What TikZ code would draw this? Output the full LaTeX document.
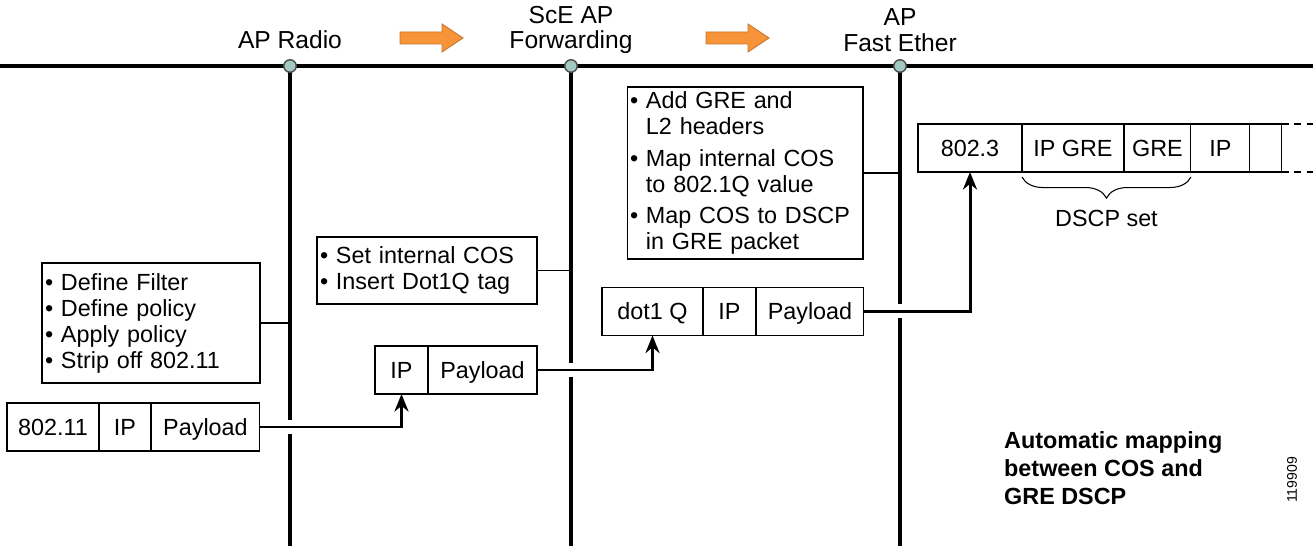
\documentclass[tikz,border=0pt]{standalone}
\usepackage{fontspec}
\setmainfont{Liberation Sans}
\usetikzlibrary{positioning, calc, arrows.meta, decorations.pathreplacing}

\definecolor{flowOrange}{HTML}{F7943A}
\definecolor{tapFill}{HTML}{A3CAC2}

\begin{document}
\begin{tikzpicture}[x=0.02cm, y=-0.02cm,
    field/.style={draw, line width=0.6pt, minimum height=0.96cm, inner sep=0pt,
      outer sep=0pt, text height=9.5pt, text depth=0pt,
      font=\fontsize{13.3}{15}\selectfont},
    note/.style={draw, line width=0.6pt, align=left, inner xsep=0.06cm, inner ysep=0pt,
      font=\fontsize{13.3}{14.8}\selectfont},
    wire/.style={line width=2.3pt},
    tap/.style={circle, draw=black!70, fill=tapFill, line width=0.8pt,
      minimum size=0.25cm, inner sep=0pt},
    flow/.style={line width=1.7pt, -{Stealth[length=10pt, width=8pt]}},
    gap/.style={white, line width=3.2pt},
    title/.style={align=center, font=\fontsize{14}{14.5}\selectfont}]
    \useasboundingbox (0, 0) rectangle (1313, 546);

    % bus and the three stages
    \coordinate (radio) at (290, 66);
    \coordinate (fwd) at (571, 66);
    \coordinate (ether) at (900, 66);
    \draw[wire] (0, 66) -- (1313, 66);
    \foreach \s in {radio, fwd, ether}
        \draw[wire] (\s) -- (\s |- 0, 546);

    \node[title] (radiolbl) at (290, 40) {AP Radio};
    \node[title] (fwdlbl) at (571, 30) {ScE AP\\Forwarding};
    \node[title] (etherlbl) at (900, 30) {AP\\Fast Ether};

    % orange arrows
    \foreach \x in {400, 706}
        \filldraw[fill=flowOrange, draw=flowOrange!80!black, line width=0.5pt]
            (\x, 32) -- ++(42, 0) -- ++(0, -8) -- ++(21, 14) -- ++(-21, 14)
            -- ++(0, -8) -- ++(-42, 0) -- cycle;

    % notes
    \node[note, minimum width=4.36cm, minimum height=2.4cm, text width=4.24cm]
        (filternote) at (151, 323) {\textbullet\ Define Filter\\
        \textbullet\ Define policy\\
        \textbullet\ Apply policy\\
        \textbullet\ Strip off 802.11};
    \node[note, minimum width=4.4cm, minimum height=1.34cm, text width=4.28cm]
        (cosnote) at (427, 270.5) {\textbullet\ Set internal COS\\
        \textbullet\ Insert Dot1Q tag};
    \node[note, minimum width=4.72cm, minimum height=3.44cm, text width=4.6cm]
        (grenote) at (745, 173) {\textbullet\ Add GRE and\\
        \hphantom{\textbullet\ }L2 headers\\[3pt]
        \textbullet\ Map internal COS\\
        \hphantom{\textbullet\ }to 802.1Q value\\[3pt]
        \textbullet\ Map COS to DSCP\\
        \hphantom{\textbullet\ }in GRE packet};

    \draw[line width=0.6pt] (filternote.east) -- (filternote.east -| radio);
    \draw[line width=0.6pt] (cosnote.east) -- (cosnote.east -| fwd);
    \draw[line width=0.6pt] (grenote.east) -- (grenote.east -| ether);

    % packets
    \node[field, minimum width=1.84cm] (p1mac) at (53, 427) {802.11};
    \node[field, minimum width=1.04cm, right=0pt of p1mac] (p1ip) {IP};
    \node[field, minimum width=2.18cm, right=0pt of p1ip] (p1pay) {Payload};

    \node[field, minimum width=1.06cm] (p2ip) at (401.5, 370) {IP};
    \node[field, minimum width=2.18cm, right=0pt of p2ip] (p2pay) {Payload};

    \node[field, minimum width=2.02cm] (p3tag) at (652.5, 311.5) {dot1 Q};
    \node[field, minimum width=1.06cm, right=0pt of p3tag] (p3ip) {IP};
    \node[field, minimum width=2.16cm, right=0pt of p3ip] (p3pay) {Payload};

    \node[field, minimum width=2.08cm] (p4mac) at (970, 148) {802.3};
    \node[field, minimum width=2.04cm, right=0pt of p4mac] (p4ipgre) {IP GRE};
    \node[field, minimum width=1.34cm, right=0pt of p4ipgre] (p4gre) {GRE};
    \node[field, minimum width=1.18cm, right=0pt of p4gre] (p4ip) {IP};
    \node[field, minimum width=0.64cm, right=0pt of p4ip] (p4more) {};
    \draw[line width=0.6pt, dash pattern=on 4pt off 3pt]
        (p4more.north east) -- ++(31, 0) (p4more.south east) -- ++(31, 0);

    \draw[line width=0.6pt, decorate, decoration={brace, mirror, amplitude=12pt}]
        ([yshift=-0.1cm]p4ipgre.south west) -- ([yshift=-0.1cm]p4gre.south east)
        node[midway, below=15pt, font=\fontsize{13.3}{15}\selectfont] (dscplbl) {DSCP set};

    % flows, with gaps cut in the stage lines
    \draw[gap] ($(p1pay.east -| radio) + (0, -7)$) -- ($(p1pay.east -| radio) + (0, 7)$);
    \draw[gap] ($(p2pay.east -| fwd) + (0, -7)$) -- ($(p2pay.east -| fwd) + (0, 7)$);
    \draw[gap] ($(p3pay.east -| ether) + (0, -7)$) -- ($(p3pay.east -| ether) + (0, 7)$);
    \draw[flow] (p1pay.east) -| (p2ip.south);
    \draw[flow] (p2pay.east) -| (p3tag.south);
    \draw[flow] (p3pay.east) -| (p4mac.south);

    \foreach \s in {radio, fwd, ether}
        \node[tap] at (\s) {};

    \node[align=left, anchor=west, font=\bfseries\fontsize{13.3}{16}\selectfont]
        (mapnote) at (998, 468) {Automatic mapping\\between COS and\\GRE DSCP};
    \node[rotate=90, font=\fontsize{8}{10}\selectfont] (figid) at (1292, 480) {119909};
\end{tikzpicture}
\end{document}
